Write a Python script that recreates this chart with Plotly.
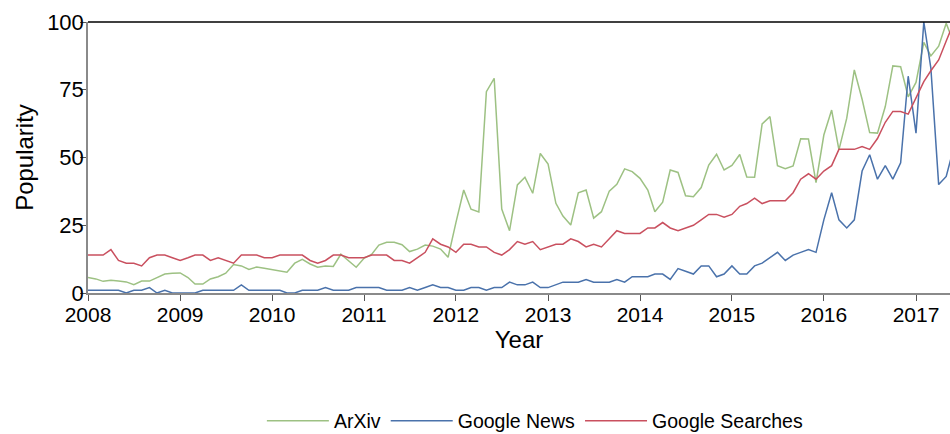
import plotly.graph_objects as go
import pandas as pd

arxiv = [5.7, 5.2, 4.3, 4.7, 4.4, 4.1, 3.1, 4.4, 4.4, 5.8, 7.0, 7.3,
         7.4, 5.7, 3.3, 3.3, 5.2, 6.0, 7.3, 10.5, 10.0, 8.7, 9.6, 9.1,
         8.6, 7.9, 7.7, 11.0, 12.4, 10.7, 9.5, 10.0, 9.8, 14.3, 12.0, 9.5,
         12.8, 14.3, 17.7, 18.7, 18.7, 17.8, 15.3, 16.2, 17.7, 17.3, 16.2, 13.2,
         26.0, 38.0, 30.9, 29.9, 74.3, 79.2, 31.0, 23.0, 39.9, 42.7, 36.8, 51.5,
         47.6, 33.1, 28.4, 25.1, 37.0, 38.0, 27.6, 30.0, 37.6, 40.1, 45.8, 44.8,
         42.3, 38.0, 30.0, 33.5, 45.4, 44.5, 35.9, 35.5, 38.9, 47.2, 51.2, 45.4,
         47.1, 51.1, 42.8, 42.7, 62.4, 65.1, 47.0, 45.9, 46.9, 56.9, 56.8, 40.7,
         58.3, 67.5, 52.8, 64.5, 82.3, 71.5, 59.2, 59.0, 68.8, 83.8, 83.5, 72.4,
         77.7, 92.5, 87.5, 91.1, 99.5, 92.0]

google_news = [1, 1, 1, 1, 1, 0, 1, 1, 2, 0, 1, 0,
               0, 0, 0, 1, 1, 1, 1, 1, 3, 1, 1, 1,
               1, 1, 0, 0, 1, 1, 1, 2, 1, 1, 1, 2,
               2, 2, 2, 1, 1, 1, 2, 1, 2, 3, 2, 2,
               1, 1, 2, 2, 1, 2, 2, 4, 3, 3, 4, 2,
               2, 3, 4, 4, 4, 5, 4, 4, 4, 5, 4, 6,
               6, 6, 7, 7, 5, 9, 8, 7, 10, 10, 6, 7,
               10, 7, 7, 10, 11, 13, 15, 12, 14, 15, 16, 15,
               27, 37, 27, 24, 27, 45, 51, 42, 47, 42, 48, 80,
               59, 100, 83, 40, 43, 54]

google_searches = [14, 14, 14, 16, 12, 11, 11, 10, 13, 14, 14, 13,
                   12, 13, 14, 14, 12, 13, 12, 11, 14, 14, 14, 13,
                   13, 14, 14, 14, 14, 12, 11, 12, 14, 14, 13, 13,
                   13, 14, 14, 14, 12, 12, 11, 13, 15, 20, 18, 17,
                   15, 18, 18, 17, 17, 15, 14, 16, 19, 18, 19, 16,
                   17, 18, 18, 20, 19, 17, 18, 17, 20, 23, 22, 22,
                   22, 24, 24, 26, 24, 23, 24, 25, 27, 29, 29, 28,
                   29, 32, 33, 35, 33, 34, 34, 34, 37, 42, 44, 42,
                   45, 47, 53, 53, 53, 54, 53, 57, 63, 67, 67, 66,
                   72, 78, 82, 86, 93, 100]

series_names = ["ArXiv", "Google News", "Google Searches"]
series_colors = ["#9dc183", "#4a72ab", "#c9505f"]
year_ticks = [str(y) for y in range(2008, 2018)]

dates = pd.date_range("2008-01-01", periods=len(arxiv), freq="MS")

fig = go.Figure()
for name, vals, col in zip(series_names, [arxiv, google_news, google_searches], series_colors):
    fig.add_trace(go.Scatter(x=dates, y=vals, mode="lines", name=name,
                             line=dict(color=col, width=1.5)))

font_family = "Liberation Sans, Arial, sans-serif"

fig.update_layout(
    width=950, height=434,
    margin=dict(l=88, r=0, t=22, b=141),
    paper_bgcolor="white", plot_bgcolor="white",
    font=dict(family=font_family, size=20, color="black"),
    showlegend=True,
    legend=dict(orientation="h", xref="paper", x=0.519, xanchor="center",
                yref="container", y=0.03, yanchor="middle",
                itemwidth=62, font=dict(size=19.5), bgcolor="rgba(0,0,0,0)"),
    xaxis=dict(
        range=["2008-01-01", "2017-05-16"],
        tickvals=[f"{y}-01-01" for y in year_ticks], ticktext=year_ticks,
        showgrid=False, zeroline=False,
        showline=True, linecolor="#8a8a8a", linewidth=1.5,
        ticks="outside", ticklen=6, tickcolor="#555555", tickwidth=1.2,
        tickfont=dict(size=21), ticklabelstandoff=-4, automargin=True,
        title=dict(text="Year", font=dict(size=24), standoff=4),
    ),
    yaxis=dict(
        range=[0, 100], tickvals=[0, 25, 50, 75, 100],
        showgrid=False, zeroline=False,
        showline=True, linecolor="#8a8a8a", linewidth=1.5,
        ticks="outside", ticklen=6, tickcolor="#555555", tickwidth=1.2,
        tickfont=dict(size=22), ticklabelstandoff=-8, automargin=True,
        title=dict(text="Popularity", font=dict(size=24), standoff=7),
    ),
    shapes=[dict(type="line", xref="paper", yref="paper", x0=0, x1=1, y0=1, y1=1,
                 line=dict(color="black", width=1.5))],
)

fig.write_html("out.html")
